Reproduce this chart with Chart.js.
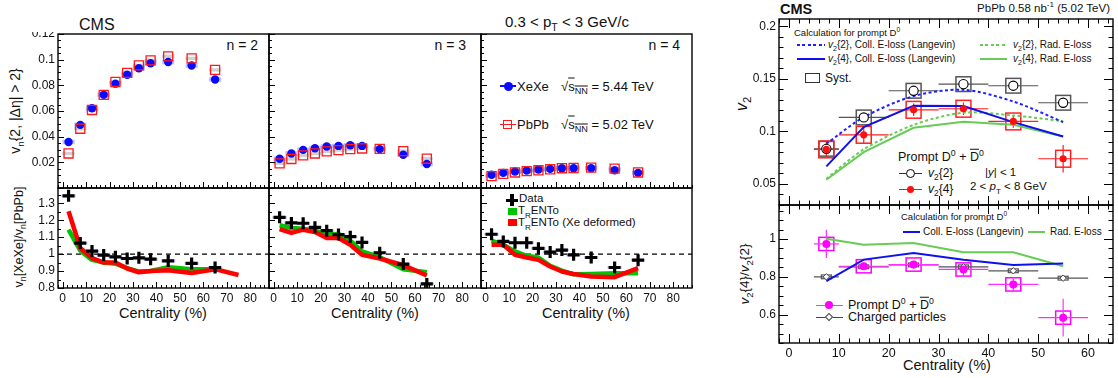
<!DOCTYPE html>
<html>
<head>
<meta charset="utf-8">
<script src="https://cdn.jsdelivr.net/npm/chart.js@4.4.1/dist/chart.umd.min.js"></script>
<style>
body { margin: 0; background: #fff; }
#wrap { position: relative; width: 1118px; height: 378px; overflow: hidden; background: #fff;
  font-family: "Liberation Sans", Arial, Helvetica, sans-serif; color: #111; }
#wrap canvas { position: absolute; }
.t { position: absolute; white-space: nowrap; line-height: 1; transform: translateY(-50%); }
.rot { position: absolute; white-space: nowrap; line-height: 1; transform: translate(-50%, -50%) rotate(-90deg); }
sub, sup { font-size: 70%; line-height: 0; }
.ov { text-decoration: overline; }
</style>
</head>
<body>
<div id="wrap">
  <!-- left figure texts -->
  <div class="t" style="left:79px;top:25px;font-size:16px">CMS</div>
  <div class="t" style="left:505px;top:21px;font-size:15px">0.3 &lt; p<sub>T</sub> &lt; 3 GeV/c</div>
  <div class="t" style="right:860px;top:45px;font-size:14px">n = 2</div>
  <div class="t" style="right:652px;top:45px;font-size:14px">n = 3</div>
  <div class="t" style="right:438px;top:45px;font-size:14px">n = 4</div>
  <div class="t" style="left:517px;top:86px;font-size:13px">XeXe</div>
  <div class="t" style="left:561px;top:86px;font-size:13px">&radic;<span class="ov">s<sub>NN</sub></span> = 5.44 TeV</div>
  <div class="t" style="left:517px;top:124px;font-size:13px">PbPb</div>
  <div class="t" style="left:561px;top:124px;font-size:13px">&radic;<span class="ov">s<sub>NN</sub></span> = 5.02 TeV</div>
  <div class="t" style="left:519px;top:199px;font-size:11.5px">Data</div>
  <div class="t" style="left:518px;top:211px;font-size:11.5px">T<sub>R</sub>ENTo</div>
  <div class="t" style="left:518px;top:223px;font-size:11.5px">T<sub>R</sub>ENTo (Xe deformed)</div>
  <div class="rot" style="left:15px;top:111px;font-size:14px">v<sub>n</sub>{2, |&Delta;&eta;| &gt; 2}</div>
  <div class="rot" style="left:19px;top:237px;font-size:12.5px">v<sub>n</sub>[XeXe]/v<sub>n</sub>[PbPb]</div>
  <div class="t" style="left:163px;top:313px;font-size:14.5px;transform:translate(-50%,-50%)">Centrality (%)</div>
  <div class="t" style="left:375px;top:313px;font-size:14.5px;transform:translate(-50%,-50%)">Centrality (%)</div>
  <div class="t" style="left:586px;top:313px;font-size:14.5px;transform:translate(-50%,-50%)">Centrality (%)</div>

  <!-- right figure texts -->
  <div class="t" style="left:780px;top:9px;font-size:14.5px;font-weight:bold">CMS</div>
  <div class="t" style="right:8px;top:9px;font-size:11.5px">PbPb 0.58 nb<sup>-1</sup> (5.02 TeV)</div>
  <div class="t" style="left:794px;top:33px;font-size:9.5px">Calculation for prompt D<sup>0</sup></div>
  <div class="t" style="left:828px;top:45px;font-size:10px"><i>v</i><sub>2</sub>{2}, Coll. E-loss (Langevin)</div>
  <div class="t" style="left:828px;top:59px;font-size:10px"><i>v</i><sub>2</sub>{4}, Coll. E-loss (Langevin)</div>
  <div class="t" style="left:1013px;top:45px;font-size:10px"><i>v</i><sub>2</sub>{2}, Rad. E-loss</div>
  <div class="t" style="left:1013px;top:59px;font-size:10px"><i>v</i><sub>2</sub>{4}, Rad. E-loss</div>
  <div class="t" style="left:825px;top:78px;font-size:12px">Syst.</div>
  <div class="t" style="left:898px;top:157px;font-size:12.5px">Prompt D<sup>0</sup> + <span class="ov">D</span><sup>0</sup></div>
  <div class="t" style="left:928px;top:173px;font-size:12px"><i>v</i><sub>2</sub>{2}</div>
  <div class="t" style="left:928px;top:189px;font-size:12px"><i>v</i><sub>2</sub>{4}</div>
  <div class="t" style="left:985px;top:173px;font-size:11.5px">|<i>y</i>| &lt; 1</div>
  <div class="t" style="left:970px;top:187px;font-size:11.5px">2 &lt; <i>p</i><sub>T</sub> &lt; 8 GeV</div>
  <div class="t" style="left:901px;top:217px;font-size:9.5px">Calculation for prompt D<sup>0</sup></div>
  <div class="t" style="left:923px;top:232px;font-size:10px">Coll. E-loss (Langevin)</div>
  <div class="t" style="left:1050px;top:232px;font-size:10px">Rad. E-loss</div>
  <div class="t" style="left:848px;top:305px;font-size:12.5px">Prompt D<sup>0</sup> + <span class="ov">D</span><sup>0</sup></div>
  <div class="t" style="left:848px;top:317px;font-size:12.5px">Charged particles</div>
  <div class="rot" style="left:742px;top:104px;font-size:16px"><i>v</i><sub>2</sub></div>
  <div class="rot" style="left:745px;top:274px;font-size:13.5px"><i>v</i><sub>2</sub>{4}/<i>v</i><sub>2</sub>{2}</div>
  <div class="t" style="left:947px;top:365px;font-size:14.5px;transform:translate(-50%,-50%)">Centrality (%)</div>
</div>
<script>
// ---- left figure: XeXe vs PbPb flow harmonics ----
const centBins = [2.5, 7.5, 12.5, 17.5, 22.5, 27.5, 32.5, 37.5, 45, 55, 65];
const xeV2 = [0.0359, 0.0492, 0.0621, 0.0726, 0.0813, 0.0882, 0.0933, 0.0972, 0.0982, 0.0954, 0.0846];
const pbV2 = [0.0269, 0.0462, 0.0608, 0.0726, 0.0826, 0.0897, 0.0956, 0.0995, 0.1026, 0.1010, 0.0920];
const xeV3 = [0.0228, 0.0269, 0.0297, 0.0310, 0.0323, 0.0328, 0.0333, 0.0328, 0.0303, 0.0259, 0.0187];
const pbV3 = [0.0192, 0.0226, 0.0254, 0.0269, 0.0285, 0.0295, 0.0303, 0.0308, 0.0305, 0.0287, 0.0228];
const xeV4 = [0.0103, 0.0118, 0.0128, 0.0136, 0.0144, 0.0149, 0.0154, 0.0154, 0.0154, 0.0138, 0.0118];
const pbV4 = [0.0092, 0.0110, 0.0121, 0.0131, 0.0138, 0.0146, 0.0154, 0.0156, 0.0159, 0.0151, 0.0121];
const xeSyst = 0.0018;
const pbSyst = 0.0013;

const ratioV2 = [1.344, 1.065, 1.018, 0.994, 0.984, 0.974, 0.978, 0.970, 0.960, 0.945, 0.921];
const ratioV3 = [1.217, 1.184, 1.182, 1.158, 1.138, 1.115, 1.103, 1.069, 1.008, 0.941, 0.824];
const ratioV4 = [1.117, 1.075, 1.067, 1.067, 1.034, 1.012, 1.024, 0.996, 0.980, 0.921, 0.964];
const ratioSyst = 0.008;

const trentoCentDefN2 = [2.5, 7.5, 12.5, 17.5, 22.5, 27.5, 32.5, 37.5, 45, 55, 65, 75];
const trentoV2 = [1.144, 1.020, 0.966, 0.950, 0.943, 0.917, 0.897, 0.900, 0.923, 0.911, 0.911];
const trentoDefV2 = [1.253, 1.036, 0.976, 0.950, 0.950, 0.915, 0.893, 0.900, 0.905, 0.889, 0.911, 0.877];
const trentoV3 = [1.170, 1.154, 1.150, 1.140, 1.115, 1.119, 1.079, 1.016, 0.982, 0.911, 0.893];
const trentoDefV3 = [1.148, 1.125, 1.144, 1.130, 1.095, 1.095, 1.055, 0.996, 0.974, 0.935, 0.874];
const trentoV4 = [1.079, 1.055, 1.016, 0.990, 0.980, 0.931, 0.903, 0.881, 0.883, 0.887, 0.887];
const trentoDefV4 = [1.055, 1.055, 0.996, 0.980, 0.966, 0.927, 0.897, 0.883, 0.868, 0.864, 0.917];

const leftXTicks = [0, 10, 20, 30, 40, 50, 60, 70, 80];
const vnTicks = [0.02, 0.04, 0.06, 0.08, 0.1, 0.12];
const ratioTicks = [0.8, 0.9, 1, 1.1, 1.2, 1.3];

// ---- right figure: prompt D0 v2{2}, v2{4} ----
const dCent = [7.5, 15, 25, 35, 45, 55];
const dBinLo = [5, 10, 20, 30, 40, 50];
const dBinHi = [10, 20, 30, 40, 50, 60];
const v2two = [0.0835, 0.1133, 0.1387, 0.1450, 0.1435, 0.1273];
const v2twoStat = [0.004, 0.004, 0.003, 0.003, 0.003, 0.004];
const v2four = [0.0829, 0.0968, 0.1206, 0.1216, 0.1095, 0.0740];
const v2fourStat = [0.007, 0.008, 0.006, 0.006, 0.006, 0.013];
const v2twoSyst = 0.007;
const v2fourSyst = 0.008;
const collV2two = [0.0883, 0.1136, 0.1336, 0.1396, 0.1285, 0.1089];
const collV2four = [0.0667, 0.1041, 0.1244, 0.1241, 0.1089, 0.0952];
const radV2two = [0.0550, 0.0829, 0.1063, 0.1178, 0.1152, 0.1098];
const radV2four = [0.0540, 0.0803, 0.1035, 0.1092, 0.1063, 0.0952];

const ratioD = [0.974, 0.856, 0.865, 0.839, 0.760, 0.584];
const ratioDStat = [0.075, 0.02, 0.02, 0.037, 0.038, 0.1];
const ratioDSyst = 0.035;
const ratioCh = [0.800, 0.853, 0.863, 0.853, 0.832, 0.793];
const ratioChStat = [0.005, 0.005, 0.005, 0.005, 0.005, 0.005];
const ratioChSyst = 0.01;
const collRatio = [0.777, 0.891, 0.926, 0.891, 0.863, 0.870];
const radRatio = [1.002, 0.970, 0.979, 0.930, 0.930, 0.856];

const rightXTicks = [0, 10, 20, 30, 40, 50, 60];
const v2Ticks = [0.05, 0.1, 0.15, 0.2];
const v2RatioTicks = [0.6, 0.8, 1];

const FONT = '"Liberation Sans", Arial, Helvetica, sans-serif';
const wrap = document.getElementById('wrap');
const deco = {};
const pts = (xs, ys) => xs.map((x, i) => ({x: x, y: ys[i]}));
const fmt = v => String(parseFloat(Number(v).toFixed(3)));

// draws ROOT-like frame, inner ticks, syst boxes and error bars
const rootPlugin = {
    id: 'rootDeco',
    beforeDatasetsDraw(chart) {
        const d = deco[chart.canvas.id];
        if (!d) return;
        const ctx = chart.ctx, a = chart.chartArea, X = chart.scales.x, Y = chart.scales.y;
        ctx.save();
        ctx.beginPath();
        ctx.rect(a.left, a.top, a.right - a.left, a.bottom - a.top);
        ctx.clip();
        (d.boxes || []).forEach(b => {
            b.xs.forEach((xv, i) => {
                const x0 = X.getPixelForValue(xv - b.dx), x1 = X.getPixelForValue(xv + b.dx);
                const y0 = Y.getPixelForValue(b.ys[i] + b.dy), y1 = Y.getPixelForValue(b.ys[i] - b.dy);
                if (b.fill) {
                    ctx.fillStyle = b.fill;
                    ctx.fillRect(x0, y0, x1 - x0, y1 - y0);
                }
                if (b.stroke) {
                    ctx.strokeStyle = b.stroke;
                    ctx.lineWidth = b.lw || 1;
                    ctx.strokeRect(x0, y0, x1 - x0, y1 - y0);
                }
            });
        });
        (d.errs || []).forEach(e => {
            ctx.strokeStyle = e.color;
            ctx.lineWidth = e.lw || 1;
            e.xs.forEach((xv, i) => {
                const px = X.getPixelForValue(xv), py = Y.getPixelForValue(e.ys[i]);
                ctx.beginPath();
                ctx.moveTo(X.getPixelForValue(e.lo[i]), py);
                ctx.lineTo(X.getPixelForValue(e.hi[i]), py);
                ctx.moveTo(px, Y.getPixelForValue(e.ys[i] - e.err[i]));
                ctx.lineTo(px, Y.getPixelForValue(e.ys[i] + e.err[i]));
                ctx.stroke();
            });
        });
        if (d.refY !== undefined) {
            const py = Y.getPixelForValue(d.refY);
            ctx.setLineDash([5, 4]);
            ctx.strokeStyle = '#000';
            ctx.lineWidth = 1.2;
            ctx.beginPath();
            ctx.moveTo(a.left, py);
            ctx.lineTo(a.right, py);
            ctx.stroke();
        }
        ctx.restore();
    },
    afterDatasetsDraw(chart) {
        const d = deco[chart.canvas.id];
        if (!d) return;
        const ctx = chart.ctx, a = chart.chartArea, X = chart.scales.x, Y = chart.scales.y;
        const t = d.ticks;
        const isMajor = (v, m) => Math.abs(v / m - Math.round(v / m)) < 1e-6;
        ctx.save();
        ctx.strokeStyle = '#000';
        ctx.lineWidth = 1;
        ctx.beginPath();
        for (let v = Math.ceil(X.min / t.xMinor - 1e-9) * t.xMinor; v <= X.max + 1e-9; v += t.xMinor) {
            const px = Math.round(X.getPixelForValue(v)) + 0.5;
            const len = isMajor(v, t.xMajor) ? t.len : t.len / 2;
            ctx.moveTo(px, a.bottom); ctx.lineTo(px, a.bottom - len);
            if (t.all) { ctx.moveTo(px, a.top); ctx.lineTo(px, a.top + len); }
        }
        for (let v = Math.ceil(Y.min / t.yMinor - 1e-9) * t.yMinor; v <= Y.max + 1e-9; v += t.yMinor) {
            const py = Math.round(Y.getPixelForValue(v)) + 0.5;
            const len = isMajor(v, t.yMajor) ? t.len : t.len / 2;
            ctx.moveTo(a.left, py); ctx.lineTo(a.left + len, py);
            if (t.all) { ctx.moveTo(a.right, py); ctx.lineTo(a.right - len, py); }
        }
        ctx.stroke();
        ctx.lineWidth = 1.4;
        ctx.strokeRect(a.left, a.top, a.right - a.left, a.bottom - a.top);
        ctx.restore();
    }
};

function scaleCfg(ax, dir, fit) {
    return {
        type: 'linear',
        min: ax.min,
        max: ax.max,
        grid: {display: false, drawTicks: false},
        border: {display: false},
        ticks: {
            display: !!ax.labels,
            autoSkip: false,
            maxRotation: 0,
            padding: 3,
            color: '#111',
            font: {family: FONT, size: ax.size || 12},
            callback: v => fmt(v)
        },
        afterBuildTicks: s => { s.ticks = ax.ticks.map(v => ({value: v})); },
        afterFit: s => {
            if (dir === 'x') s.height = fit; else s.width = fit;
            s.paddingLeft = s.paddingRight = s.paddingTop = s.paddingBottom = 0;
        }
    };
}

function panel(id, area, m, xAx, yAx, datasets, d) {
    const c = document.createElement('canvas');
    const w = area.r - area.l + m.l + m.r, h = area.b - area.t + m.t + m.b;
    c.id = id;
    c.width = w;
    c.height = h;
    c.style.left = (area.l - m.l) + 'px';
    c.style.top = (area.t - m.t) + 'px';
    c.style.width = w + 'px';
    c.style.height = h + 'px';
    wrap.appendChild(c);
    deco[id] = d;
    new Chart(c, {
        type: 'scatter',
        data: {datasets: datasets},
        options: {
            responsive: false,
            animation: false,
            devicePixelRatio: 1,
            layout: {autoPadding: false, padding: {left: 0, top: m.t, right: m.r, bottom: 0}},
            plugins: {legend: {display: false}, tooltip: {enabled: false}},
            scales: {x: scaleCfg(xAx, 'x', m.b), y: scaleCfg(yAx, 'y', m.l)}
        },
        plugins: [rootPlugin]
    });
}

function markers(xs, ys, o) {
    return Object.assign({data: pts(xs, ys), showLine: false, borderWidth: 1, pointRadius: 4}, o);
}
function curve(xs, ys, o) {
    return Object.assign({data: pts(xs, ys), showLine: true, pointRadius: 0, fill: false, borderWidth: 2}, o);
}

// ---- left upper panels ----
const leftTicks = {xMajor: 10, xMinor: 2, len: 6};
const upperX = {min: -2, max: 88, ticks: leftXTicks, labels: false};
const upperY = {min: 0, max: 0.12, ticks: vnTicks};
const upperSets = [[xeV2, pbV2], [xeV3, pbV3], [xeV4, pbV4]];
const colL = [58, 269, 481, 692];
upperSets.forEach((s, k) => {
    const area = {l: colL[k], r: colL[k + 1], t: 34, b: 188};
    const m = {l: k === 0 ? 50 : 2, t: 2, r: 2, b: 2};
    panel('up' + k, area, m, upperX, Object.assign({labels: k === 0}, upperY), [
        markers(centBins, s[1], {pointStyle: 'rect', pointRadius: 6.4, borderColor: '#ff1a1a', borderWidth: 1.3, backgroundColor: 'rgba(0,0,0,0)'}),
        markers(centBins, s[0], {pointStyle: 'circle', pointRadius: 4.2, borderWidth: 0, backgroundColor: '#0a0aff'})
    ], {
        ticks: Object.assign({yMajor: 0.02, yMinor: 0.005}, leftTicks),
        boxes: [
            {xs: centBins, ys: s[0], dx: 2.6, dy: xeSyst, fill: 'rgba(90,90,255,0.35)'},
            {xs: centBins, ys: s[1], dx: 2.6, dy: pbSyst, fill: 'rgba(140,140,140,0.4)'}
        ]
    });
});

// ---- left lower (ratio) panels ----
const lowerX = {min: -2, max: 88, ticks: leftXTicks, labels: true, size: 12};
const lowerY = {min: 0.8, max: 1.39, ticks: ratioTicks};
const lowerSets = [
    [ratioV2, centBins, trentoV2, trentoCentDefN2, trentoDefV2],
    [ratioV3, centBins, trentoV3, centBins, trentoDefV3],
    [ratioV4, centBins, trentoV4, centBins, trentoDefV4]
];
lowerSets.forEach((s, k) => {
    const area = {l: colL[k], r: colL[k + 1], t: 188, b: 288};
    const m = {l: k === 0 ? 50 : 8, t: 2, r: 8, b: 20};
    panel('low' + k, area, m, lowerX, Object.assign({labels: k === 0, size: 12}, lowerY), [
        markers(centBins, s[0], {pointStyle: 'cross', pointRadius: 6, borderWidth: 3.2, borderColor: '#000'}),
        curve(s[3], s[4], {borderColor: '#ff0000', borderWidth: 4.5, borderJoinStyle: 'round'}),
        curve(s[1], s[2], {borderColor: '#00c400', borderWidth: 4.5, borderJoinStyle: 'round'})
    ], {
        ticks: Object.assign({yMajor: 0.1, yMinor: 0.05}, leftTicks),
        refY: 1,
        boxes: [{xs: centBins, ys: s[0], dx: 3, dy: ratioSyst, fill: 'rgba(100,100,240,0.45)'}]
    });
});

// ---- right upper panel ----
const rightTicks = {xMajor: 10, xMinor: 2, len: 9, all: true};
const rightX = {min: -2, max: 65, ticks: rightXTicks, labels: false};
panel('rup', {l: 779, r: 1113, t: 19, b: 205}, {l: 38, t: 2, r: 4, b: 2}, rightX,
    {min: 0.03, max: 0.207, ticks: v2Ticks, labels: true, size: 12}, [
    markers(dCent, v2four, {pointStyle: 'circle', pointRadius: 3.6, borderWidth: 0, backgroundColor: '#ff1010'}),
    markers(dCent, v2two, {pointStyle: 'circle', pointRadius: 4.6, borderWidth: 1.1, borderColor: '#000', backgroundColor: '#fff'}),
    curve(dCent, collV2two, {borderColor: '#2020ff', borderDash: [3, 2.5], tension: 0.3}),
    curve(dCent, collV2four, {borderColor: '#1010ee'}),
    curve(dCent, radV2two, {borderColor: '#66cc55', borderDash: [3, 2.5], tension: 0.3}),
    curve(dCent, radV2four, {borderColor: '#66cc55'})
], {
    ticks: Object.assign({yMajor: 0.05, yMinor: 0.01}, rightTicks),
    boxes: [
        {xs: dCent, ys: v2two, dx: 1.5, dy: v2twoSyst, stroke: '#555', lw: 1.5},
        {xs: dCent, ys: v2four, dx: 1.5, dy: v2fourSyst, stroke: '#ff2020', lw: 1.5}
    ],
    errs: [
        {xs: dCent, ys: v2two, lo: dBinLo, hi: dBinHi, err: v2twoStat, color: '#555', lw: 1.2},
        {xs: dCent, ys: v2four, lo: dBinLo, hi: dBinHi, err: v2fourStat, color: '#ff2020', lw: 1.2}
    ]
});

// ---- right lower panel ----
panel('rlow', {l: 779, r: 1113, t: 205, b: 343}, {l: 38, t: 2, r: 4, b: 22},
    Object.assign({}, rightX, {labels: true, size: 12.5}),
    {min: 0.45, max: 1.18, ticks: v2RatioTicks, labels: true, size: 12}, [
    markers(dCent, ratioD, {pointStyle: 'circle', pointRadius: 4, borderWidth: 0, backgroundColor: '#ff00ff'}),
    markers(dCent, ratioCh, {pointStyle: 'rectRot', pointRadius: 3.2, borderWidth: 1, borderColor: '#444', backgroundColor: '#fff'}),
    curve(dCent, collRatio, {borderColor: '#1010ee'}),
    curve(dCent, radRatio, {borderColor: '#66cc55'})
], {
    ticks: Object.assign({yMajor: 0.2, yMinor: 0.05}, rightTicks),
    boxes: [
        {xs: dCent, ys: ratioCh, dx: 1, dy: ratioChSyst, stroke: '#555', lw: 1.2},
        {xs: dCent, ys: ratioD, dx: 1.5, dy: ratioDSyst, stroke: '#ff00ff', lw: 1.5}
    ],
    errs: [
        {xs: dCent, ys: ratioCh, lo: dBinLo, hi: dBinHi, err: ratioChStat, color: '#555', lw: 1.2},
        {xs: dCent, ys: ratioD, lo: dBinLo, hi: dBinHi, err: ratioDStat, color: '#ff30ff', lw: 1.2}
    ]
});

// ---- legend glyphs ----
function glyph(x, y, w, h, css) {
    const e = document.createElement('div');
    e.style.cssText = 'position:absolute;left:' + x + 'px;top:' + y + 'px;width:' + w + 'px;height:' + h + 'px;box-sizing:border-box;' + (css || '');
    wrap.appendChild(e);
}
const dotted = c => 'background:repeating-linear-gradient(90deg,' + c + ' 0 3px,transparent 3px 5.5px);';
// XeXe / PbPb
glyph(500, 85, 16, 1.5, 'background:#0a0aff');
glyph(503.5, 81.5, 9, 9, 'background:#0a0aff;border-radius:50%');
glyph(500, 123.5, 16, 1.3, 'background:#ff1a1a');
glyph(503, 119.5, 9, 9, 'border:1.3px solid #ff1a1a');
// Data / TRENTo
glyph(506, 198.5, 12, 3.5, 'background:#000');
glyph(510.2, 194, 3.5, 12, 'background:#000');
glyph(508, 208, 9, 7, 'background:#00c400');
glyph(508, 219, 9, 7, 'background:#ff0000');
// right upper
glyph(797, 44, 28, 2, dotted('#2020ff'));
glyph(797, 58, 28, 2, 'background:#1010ee');
glyph(980, 44, 27, 2, dotted('#66cc55'));
glyph(980, 58, 27, 2, 'background:#66cc55');
glyph(805, 73, 15, 10, 'border:1.4px solid #333');
glyph(899, 172.5, 23, 1.2, 'background:#333');
glyph(906, 168.5, 9, 9, 'border:1.1px solid #000;border-radius:50%;background:#fff');
glyph(899, 189, 23, 1.3, 'background:#ff1010');
glyph(907, 186, 7, 7, 'background:#ff1010;border-radius:50%');
// right lower
glyph(903, 231, 17, 2, 'background:#1010ee');
glyph(1028, 231, 17, 2, 'background:#66cc55');
glyph(816, 304.5, 27, 1.3, 'background:#ff30ff');
glyph(825, 301, 8, 8, 'background:#ff00ff;border-radius:50%');
glyph(816, 316.5, 27, 1.1, 'background:#444');
glyph(826, 314, 6, 6, 'border:1px solid #444;background:#fff;transform:rotate(45deg)');
</script>
</body>
</html>
